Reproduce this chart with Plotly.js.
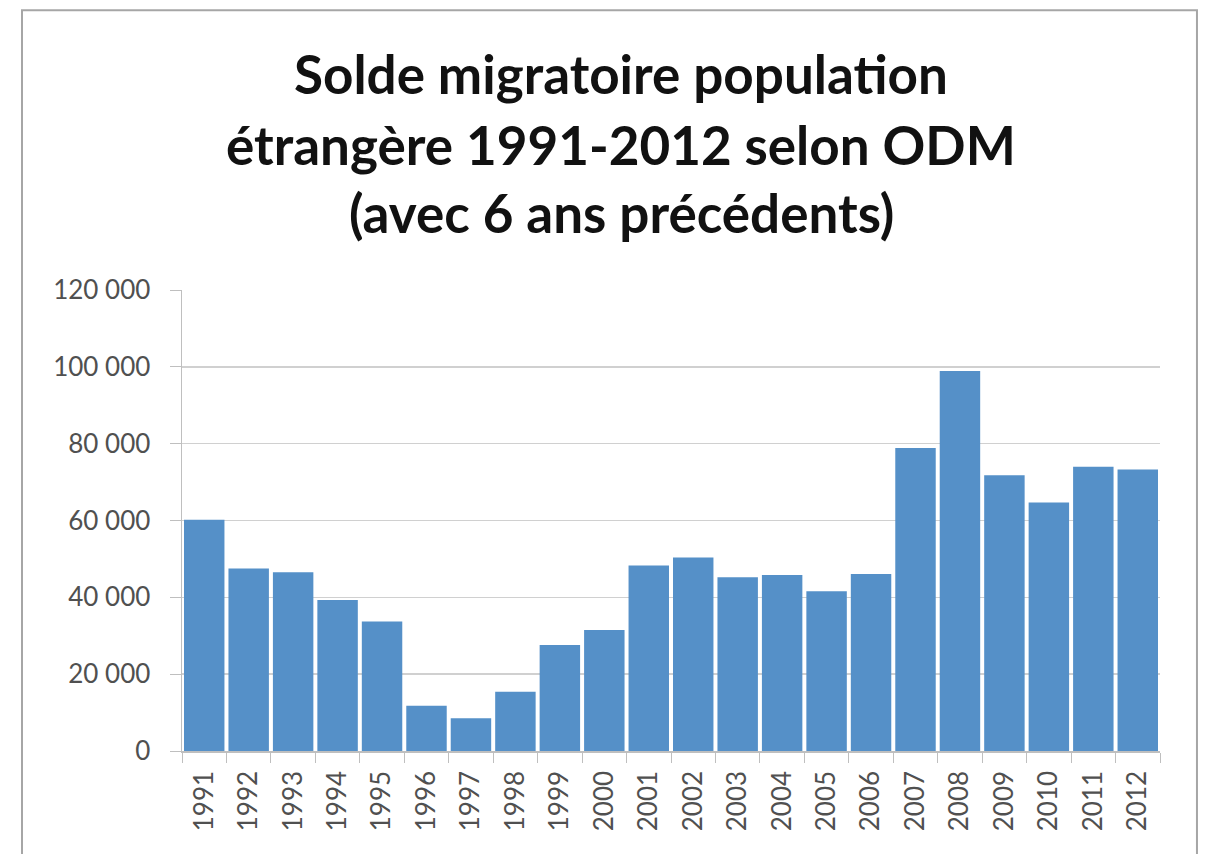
<!DOCTYPE html>
<html>
<head>
<meta charset="utf-8">
<script src="https://cdn.plot.ly/plotly-3.0.1.min.js"></script>
<style>
html,body{margin:0;padding:0;background:#fff;}
#chart{width:1209px;height:854px;}
</style>
</head>
<body>
<div id="chart"></div>
<script>
const years = ["1991","1992","1993","1994","1995","1996","1997","1998","1999","2000","2001","2002","2003","2004","2005","2006","2007","2008","2009","2010","2011","2012"];
const solde = [60200,47500,46500,39300,33700,11800,8500,15400,27600,31500,48300,50400,45200,45800,41600,46100,78900,98900,71800,64700,74000,73300];
const titleLines = ["Solde migratoire population","étrangère 1991-2012 selon ODM","(avec 6 ans précédents)"];
const yTicks = [0,20000,40000,60000,80000,100000,120000];

const titleY = [1.4700,1.3160,1.1680];
const annotations = titleLines.map((t,i)=>({
  text: "<b>"+t+"</b>", xref:"paper", yref:"paper", x:0.449, y:titleY[i],
  xanchor:"center", yanchor:"middle", showarrow:false,
  font:{family:"Lato, 'Open Sans', sans-serif", size:53, color:"#111111"}
}));

const trace = {
  type:"bar", x:years, y:solde,
  marker:{color:"#5590c8", line:{width:0}},
  hoverinfo:"x+y"
};

const layout = {
  width:1209, height:854,
  margin:{l:182, r:49, t:290, b:103, pad:0},
  paper_bgcolor:"#ffffff", plot_bgcolor:"#ffffff",
  separators:", ",
  bargap:0.09,
  showlegend:false,
  font:{family:"Lato, 'Open Sans', sans-serif", color:"#595959"},
  xaxis:{
    type:"category", tickangle:-90, showgrid:false,
    ticks:"outside", tickson:"boundaries", ticklen:10, tickcolor:"#bfbfbf",
    showline:true, linecolor:"#bfbfbf", linewidth:1.5,
    tickfont:{size:26, color:"#505050"},
    ticklabelstandoff:8
  },
  yaxis:{
    range:[0,120000], tickvals:yTicks, tickformat:",d",
    showgrid:true, gridcolor:"#d0d0d0", gridwidth:1.5,
    ticks:"outside", ticklen:11, tickcolor:"#bfbfbf",
    showline:true, linecolor:"#bfbfbf", linewidth:1.5,
    zeroline:false,
    tickfont:{size:26, color:"#505050"},
    ticklabelstandoff:14
  },
  annotations: annotations,
  shapes:[{
    type:"rect", xref:"paper", yref:"paper",
    x0:-0.1636, x1:1.0378, y0:-0.25, y1:1.607,
    line:{color:"#a6a6a6", width:2}, fillcolor:"rgba(0,0,0,0)", layer:"below"
  }]
};

Plotly.newPlot("chart",[trace],layout,{displayModeBar:false, staticPlot:true});
</script>
</body>
</html>
